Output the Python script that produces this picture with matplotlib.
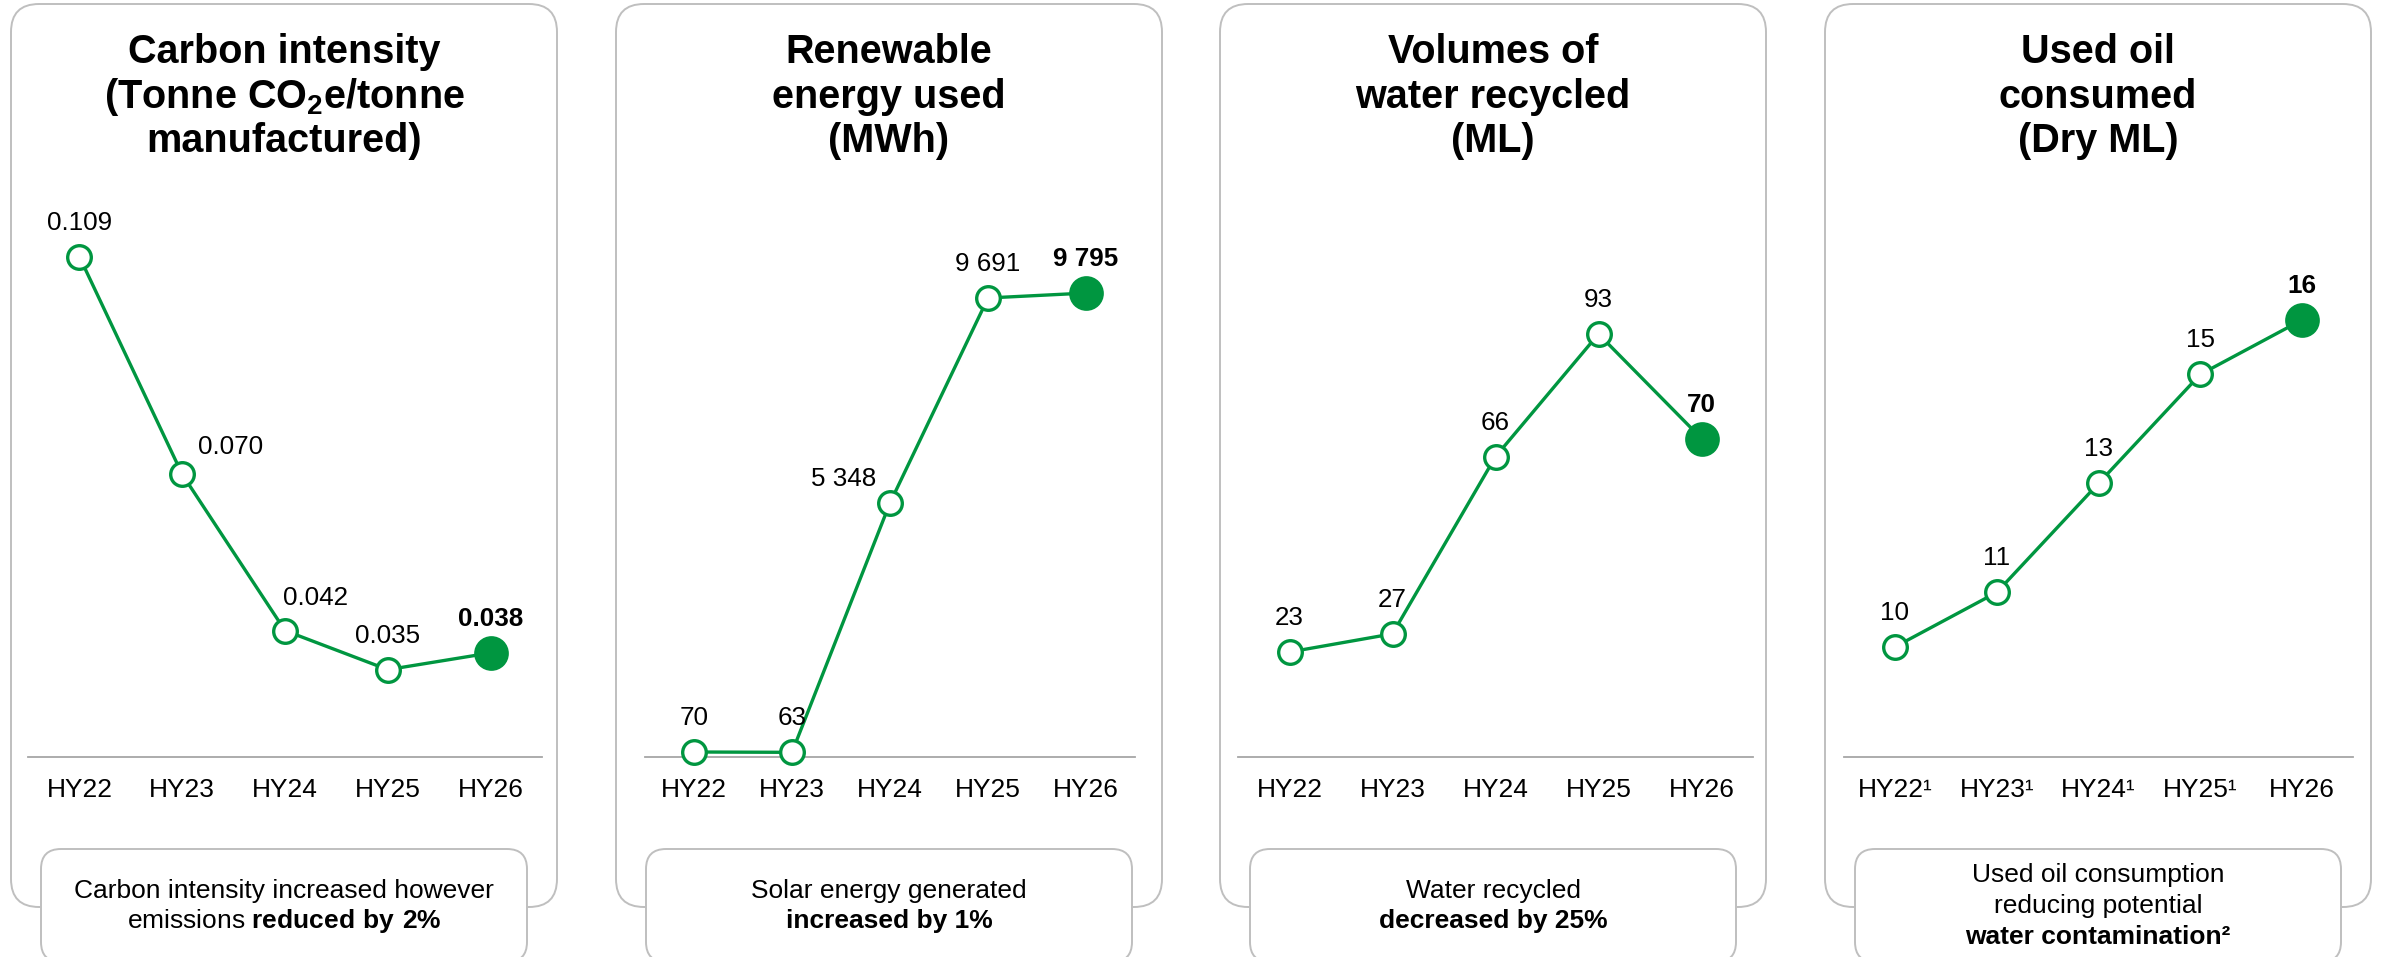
import matplotlib.pyplot as plt
from matplotlib.patches import FancyBboxPatch

plt.rcParams["font.family"] = ["Liberation Sans", "DejaVu Sans"]
plt.rcParams["mathtext.fontset"] = "custom"
plt.rcParams["mathtext.rm"] = "Liberation Sans"
plt.rcParams["mathtext.bf"] = "Liberation Sans:bold"
plt.rcParams["mathtext.default"] = "regular"

# --- data ---
periods = ["HY22", "HY23", "HY24", "HY25", "HY26"]
oil_periods = ["HY22¹", "HY23¹", "HY24¹", "HY25¹", "HY26"]

carbon_intensity = [0.109, 0.070, 0.042, 0.035, 0.038]
renewable_mwh = [70, 63, 5348, 9691, 9795]
water_recycled_ml = [23, 27, 66, 93, 70]
used_oil_ml = [10, 11, 13, 15, 16]

titles = [
    ["Carbon intensity", "(Tonne CO$_2$e/tonne", "manufactured)"],
    ["Renewable", "energy used", "(MWh)"],
    ["Volumes of", "water recycled", "(ML)"],
    ["Used oil", "consumed", "(Dry ML)"],
]
captions = [
    [("Carbon intensity increased however", "normal"),
     (r"emissions $\mathbf{reduced\ by\ 2\%}$", "normal")],
    [("Solar energy generated", "normal"), ("increased by 1%", "bold")],
    [("Water recycled", "normal"), ("decreased by 25%", "bold")],
    [("Used oil consumption", "normal"), ("reducing potential", "normal"),
     ("water contamination²", "bold")],
]

# --- styling ---
GREEN = "#009640"
BORDER = "#bfbfbf"
AXIS_GREY = "#a6a6a6"
W, H = 2381, 957
PT = 72 / 100  # points per pixel


def fmt_thousands(v):
    return f"{v:,}".replace(",", " ")


panels = [
    dict(cats=periods, values=carbon_intensity, fmt=lambda v: f"{v:.3f}",
         ylim=(0.01935, 0.11915), box_x=11, axis_x=(28, 542),
         offsets={1: (48, 20), 2: (31, 26)}),
    dict(cats=periods, values=renewable_mwh, fmt=fmt_thousands,
         ylim=(-36, 11767), box_x=616, axis_x=(645, 1135),
         offsets={2: (-46, 17)}),
    dict(cats=periods, values=water_recycled_ml, fmt=lambda v: f"{v}",
         ylim=(-0.11, 122.5), box_x=1220, axis_x=(1238, 1753), offsets={}),
    dict(cats=oil_periods, values=used_oil_ml, fmt=lambda v: f"{v}",
         ylim=(7.98, 18.2), box_x=1825, axis_x=(1844, 2353), offsets={}),
]

BOX_W, BOX_TOP, BOX_BOTTOM = 546, 4, 907
CAP_INSET, CAP_W, CAP_TOP, CAP_BOTTOM = 30, 486, 849, 962
AXIS_Y, PLOT_TOP = 757, 200
TITLE_BASELINES = [63, 108, 152]

fig = plt.figure(figsize=(W / 100, H / 100), dpi=100)
bg = fig.add_axes([0, 0, 1, 1], zorder=0)
bg.set_xlim(0, W)
bg.set_ylim(H, 0)
bg.axis("off")

for panel, title, caption in zip(panels, titles, captions):
    bx = panel["box_x"]
    cx = bx + BOX_W / 2

    bg.add_patch(FancyBboxPatch((bx, BOX_TOP), BOX_W, BOX_BOTTOM - BOX_TOP,
                                boxstyle="round,pad=0,rounding_size=28",
                                fc="white", ec=BORDER, lw=1.4, zorder=1))
    bg.add_patch(FancyBboxPatch((bx + CAP_INSET, CAP_TOP), CAP_W, CAP_BOTTOM - CAP_TOP,
                                boxstyle="round,pad=0,rounding_size=20",
                                fc="white", ec=BORDER, lw=1.4, zorder=2))

    for line, y in zip(title, TITLE_BASELINES):
        bg.text(cx, y, line, ha="center", va="baseline", fontsize=28.5,
                fontweight="bold", zorder=3)

    cap_ys = [898, 928] if len(caption) == 2 else [882, 913, 944]
    for (line, weight), y in zip(caption, cap_ys):
        bg.text(cx, y, line, ha="center", va="baseline", fontsize=19,
                fontweight=weight, zorder=3)

    # line chart sits on a grey baseline
    x0, x1 = panel["axis_x"]
    ax = fig.add_axes([x0 / W, 1 - AXIS_Y / H, (x1 - x0) / W, (AXIS_Y - PLOT_TOP) / H],
                      zorder=1)
    ax.patch.set_visible(False)
    for side in ("top", "left", "right"):
        ax.spines[side].set_visible(False)
    ax.spines["bottom"].set_color(AXIS_GREY)
    ax.spines["bottom"].set_linewidth(1.3)

    vals = panel["values"]
    xs = list(range(len(vals)))
    ax.plot(xs, vals, color=GREEN, lw=2.4, zorder=3, clip_on=False)
    ax.plot(xs[:-1], vals[:-1], "o", ms=17, mfc="white", mec=GREEN, mew=2.4,
            zorder=4, clip_on=False)
    ax.plot(xs[-1], vals[-1], "o", ms=25, color=GREEN, mew=0, zorder=4, clip_on=False)

    for i, v in enumerate(vals):
        dx, dy = panel["offsets"].get(i, (0, 27))
        last = i == len(vals) - 1
        ax.annotate(panel["fmt"](v), (i, v), xytext=(dx * PT, dy * PT),
                    textcoords="offset points", ha="center", va="baseline",
                    fontsize=18.7, fontweight="bold" if last else "normal",
                    color="black", zorder=5, annotation_clip=False)

    ax.set_xlim(-0.5, len(vals) - 0.5)
    ax.set_ylim(*panel["ylim"])
    ax.set_xticks(xs, panel["cats"])
    ax.set_yticks([])
    ax.tick_params(axis="x", length=0, pad=15, labelsize=19, labelcolor="black")

fig.savefig("out.png", dpi=100)
